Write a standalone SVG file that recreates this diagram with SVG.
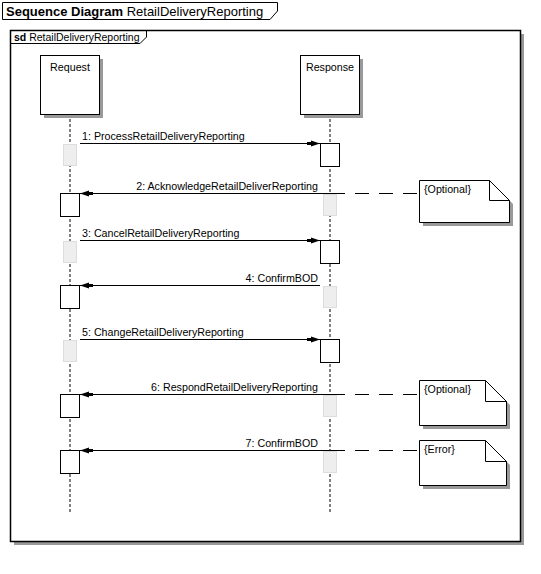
<svg xmlns="http://www.w3.org/2000/svg" width="541" height="574" viewBox="0 0 541 574">
<defs>
<style>
.t{font-family:"Liberation Sans",Arial,sans-serif;font-size:10.7px;fill:#000}
.b{font-weight:bold}
.frame{fill:#fff;stroke:#000;stroke-width:1.5}
.shadow{fill:#999;stroke:none}
.box{fill:#fff;stroke:#000;stroke-width:1}
.life{stroke:#000;stroke-width:1;stroke-dasharray:3,2;fill:none}
.act{fill:#fff;stroke:#000;stroke-width:1}
.ghost{fill:#eee;stroke:#ddd;stroke-width:1}
.msg{stroke:#000;stroke-width:1;fill:none;marker-end:url(#ah)}
.solid{stroke:#000;stroke-width:1;fill:none}
.anchor{stroke:#000;stroke-width:1;stroke-dasharray:14,10;fill:none}
.note{fill:#fff;stroke:#000;stroke-width:1}
</style>
<marker id="ah" markerUnits="userSpaceOnUse" markerWidth="14" markerHeight="8" refX="13" refY="4" orient="auto">
<path d="M0,2.5 L4,2.5 L4,1 L13,4 L4,7 L4,5.5 L0,5.5 Z" fill="#000"/>
</marker>
</defs>
<rect width="541" height="574" fill="#fff"/>

<g id="diagram-title">
<path d="M2.5,2.5 H277.5 V11 L270,19.5 H2.5 Z" fill="#fff" stroke="#000" stroke-width="1"/>
<text x="6" y="16" class="t" style="font-size:13px"><tspan class="b">Sequence Diagram</tspan> RetailDeliveryReporting</text>
</g>

<g id="frame">
<rect x="14" y="34" width="510" height="511" class="shadow"/>
<rect x="10.5" y="30.5" width="510" height="511" class="frame"/>
<path d="M10.5,43.5 H140 L146.5,37 V30.5" fill="none" stroke="#000" stroke-width="1"/>
<text x="14" y="41" class="t" style="font-size:10.5px"><tspan class="b">sd</tspan> RetailDeliveryReporting</text>
</g>

<g id="lifeline-request">
<line x1="70" y1="114" x2="70" y2="513" class="life"/>
<rect x="44" y="59" width="59" height="59" class="shadow"/>
<rect x="40.5" y="55.5" width="59" height="59" class="box"/>
<text x="70" y="71" class="t" text-anchor="middle">Request</text>
</g>

<g id="lifeline-response">
<line x1="330" y1="114" x2="330" y2="513" class="life"/>
<rect x="304" y="59" width="59" height="59" class="shadow"/>
<rect x="300.5" y="55.5" width="59" height="59" class="box"/>
<text x="330" y="71" class="t" text-anchor="middle">Response</text>
</g>

<g id="activations">
<rect x="63.5" y="144.5" width="13" height="21" class="ghost"/>
<rect x="320.5" y="143.5" width="19" height="23" class="act"/>
<rect x="60.5" y="193.5" width="19" height="23" class="act"/>
<rect x="323.5" y="194.5" width="13" height="21" class="ghost"/>
<rect x="63.5" y="241.5" width="13" height="21" class="ghost"/>
<rect x="320.5" y="240.5" width="19" height="23" class="act"/>
<rect x="60.5" y="285.5" width="19" height="23" class="act"/>
<rect x="323.5" y="286.5" width="13" height="21" class="ghost"/>
<rect x="63.5" y="340.5" width="13" height="21" class="ghost"/>
<rect x="320.5" y="339.5" width="19" height="23" class="act"/>
<rect x="60.5" y="394.5" width="19" height="23" class="act"/>
<rect x="323.5" y="395.5" width="13" height="21" class="ghost"/>
<rect x="60.5" y="450.5" width="19" height="23" class="act"/>
<rect x="323.5" y="451.5" width="13" height="21" class="ghost"/>
</g>

<g id="connectors">
<line x1="80" y1="143.5" x2="320" y2="143.5" class="msg"/>
<text x="82" y="140" class="t">1: ProcessRetailDeliveryReporting</text>
<line x1="320" y1="193.5" x2="80" y2="193.5" class="msg"/>
<text x="318" y="190" class="t" text-anchor="end">2: AcknowledgeRetailDeliverReporting</text>
<line x1="80" y1="240.5" x2="320" y2="240.5" class="msg"/>
<text x="82" y="237" class="t">3: CancelRetailDeliveryReporting</text>
<line x1="320" y1="285.5" x2="80" y2="285.5" class="msg"/>
<text x="318" y="282" class="t" text-anchor="end">4: ConfirmBOD</text>
<line x1="80" y1="339.5" x2="320" y2="339.5" class="msg"/>
<text x="82" y="336" class="t">5: ChangeRetailDeliveryReporting</text>
<line x1="320" y1="394.5" x2="80" y2="394.5" class="msg"/>
<text x="318" y="391" class="t" text-anchor="end">6: RespondRetailDeliveryReporting</text>
<line x1="320" y1="450.5" x2="80" y2="450.5" class="msg"/>
<text x="318" y="447" class="t" text-anchor="end">7: ConfirmBOD</text>
<line x1="319" y1="193.5" x2="331" y2="193.5" class="solid"/>
<line x1="331" y1="193.5" x2="419" y2="193.5" class="anchor"/>
<line x1="319" y1="394.5" x2="331" y2="394.5" class="solid"/>
<line x1="331" y1="394.5" x2="419" y2="394.5" class="anchor"/>
<line x1="319" y1="450.5" x2="331" y2="450.5" class="solid"/>
<line x1="331" y1="450.5" x2="419" y2="450.5" class="anchor"/>
</g>

<g id="note-1">
<path d="M423,184 H493 L513,204 V226 H423 Z" class="shadow"/>
<path d="M419.5,180.5 H489.5 L509.5,200.5 V222.5 H419.5 Z" class="note"/>
<path d="M489.5,180.5 V200.5 H509.5" fill="none" stroke="#000" stroke-width="1"/>
<text x="424" y="193" class="t">{Optional}</text>
</g>

<g id="note-2">
<path d="M423,384 H489 L510,405 V429 H423 Z" class="shadow"/>
<path d="M419.5,380.5 H485.5 L506.5,401.5 V425.5 H419.5 Z" class="note"/>
<path d="M485.5,380.5 V401.5 H506.5" fill="none" stroke="#000" stroke-width="1"/>
<text x="424" y="393" class="t">{Optional}</text>
</g>

<g id="note-3">
<path d="M423,444 H489 L510,465 V489 H423 Z" class="shadow"/>
<path d="M419.5,440.5 H485.5 L506.5,461.5 V485.5 H419.5 Z" class="note"/>
<path d="M485.5,440.5 V461.5 H506.5" fill="none" stroke="#000" stroke-width="1"/>
<text x="424" y="453" class="t">{Error}</text>
</g>
</svg>
